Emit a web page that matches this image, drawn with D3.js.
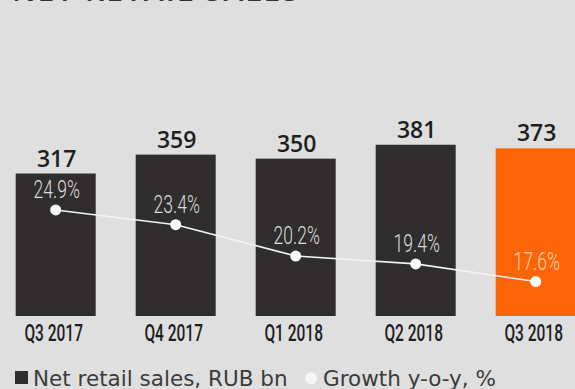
<!DOCTYPE html>
<html>
<head>
<meta charset="utf-8">
<script src="https://cdn.jsdelivr.net/npm/d3@7"></script>
<style>
  html, body { margin: 0; padding: 0; background: #dfdfdf; }
  svg { display: block; }
</style>
</head>
<body>
<script>
// Quarterly net retail sales (RUB bn) and year-on-year growth (%)
const quarters = ["Q3 2017", "Q4 2017", "Q1 2018", "Q2 2018", "Q3 2018"];
const sales = [317, 359, 350, 381, 373];
const growth = [24.9, 23.4, 20.2, 19.4, 17.6];
const growthLabels = ["24.9%", "23.4%", "20.2%", "19.4%", "17.6%"];
const legendItems = ["Net retail sales, RUB bn", "Growth y-o-y, %"];
const title = "NET RETAIL SALES";

const W = 575, H = 389;
const svg = d3.select("body").append("svg").attr("width", W).attr("height", H);

svg.append("rect").attr("width", W).attr("height", H).attr("fill", "#dfdfdf");

// title sits mostly above the visible area
svg.append("text")
  .attr("x", 12).attr("y", 1)
  .attr("font-family", "Open Sans").attr("font-weight", 600)
  .attr("font-size", 30).attr("letter-spacing", 2)
  .attr("fill", "#333").text(title);

const x = d3.scaleBand().domain(quarters)
  .range([-4.3, 595.7]).paddingInner(1 / 3).paddingOuter(1 / 6);
const y = d3.scaleLinear().domain([0, 400]).range([316, 136.2]);
const yg = d3.scaleLinear().domain([15, 25]).range([307, 209]);

const last = quarters.length - 1;
const barColor = (d, i) => i === last ? "#fd6508" : "#2f2d2d";

// bars
svg.append("g").selectAll("rect").data(quarters).join("rect")
  .attr("x", d => x(d))
  .attr("width", x.bandwidth())
  .attr("y", (d, i) => y(sales[i]))
  .attr("height", (d, i) => y(0) - y(sales[i]))
  .attr("fill", barColor);

// value labels over bars
svg.append("g").selectAll("text").data(quarters).join("text")
  .attr("x", d => x(d) + x.bandwidth() / 2 + 1)
  .attr("y", (d, i) => y(sales[i]) - 7)
  .attr("text-anchor", "middle")
  .attr("font-family", "Open Sans").attr("font-weight", 600)
  .attr("font-size", 23).attr("fill", "#1e1e1e")
  .text((d, i) => sales[i]);

// growth line
const cx = d => x(d) + x.bandwidth() / 2;
svg.append("path")
  .datum(quarters)
  .attr("fill", "none").attr("stroke", "#f4f4f4").attr("stroke-width", 1.6)
  .attr("d", d3.line().x(d => cx(d)).y((d, i) => yg(growth[i])));

svg.append("g").selectAll("circle").data(quarters).join("circle")
  .attr("cx", d => cx(d))
  .attr("cy", (d, i) => yg(growth[i]))
  .attr("r", 5.5).attr("fill", "#fbfbfb");

// growth labels (condensed light face)
svg.append("g").selectAll("text").data(quarters).join("text")
  .attr("transform", (d, i) => `translate(${cx(d) + 1},${yg(growth[i]) - 12}) scale(0.66,1)`)
  .attr("text-anchor", "middle")
  .attr("font-family", "Roboto").attr("font-weight", 300)
  .attr("font-size", 26.5)
  .attr("fill", (d, i) => i === last ? "#fcd0a6" : "#dcdcdc")
  .text((d, i) => growthLabels[i]);

// category axis labels
svg.append("g").selectAll("text").data(quarters).join("text")
  .attr("transform", d => `translate(${cx(d) - 2},340.7) scale(0.66,1)`)
  .attr("text-anchor", "middle")
  .attr("font-family", "Roboto").attr("font-weight", 500)
  .attr("font-size", 23.5).attr("fill", "#1e1e1e")
  .text(d => d);

// legend
const lg = svg.append("g").attr("font-family", "DejaVu Sans").attr("font-size", 21.5).attr("fill", "#3b3b3b");
lg.append("rect").attr("x", 15).attr("y", 371).attr("width", 13).attr("height", 13).attr("fill", "#2f2d2d");
lg.append("text").attr("x", 33).attr("y", 385.7).text(legendItems[0]);
lg.append("circle").attr("cx", 311).attr("cy", 378.3).attr("r", 6).attr("fill", "#f7f7f7");
lg.append("text").attr("x", 323).attr("y", 385.7).text(legendItems[1]);
</script>
</body>
</html>
